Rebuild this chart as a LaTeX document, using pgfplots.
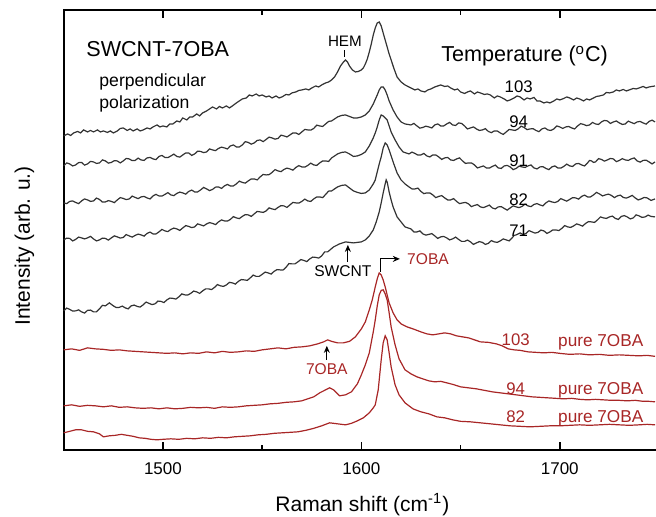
\documentclass[border=0pt]{standalone}
\usepackage{fontspec}
\setmainfont{Liberation Sans}
\usepackage{pgfplots}
\pgfplotsset{compat=1.18}
\usetikzlibrary{arrows.meta}
\definecolor{blk}{rgb}{0.2,0.2,0.2}
\definecolor{rd}{RGB}{168,38,38}
\newcommand{\fs}[1]{\fontsize{#1}{#1}\selectfont}
\begin{document}
\begin{tikzpicture}
\begin{axis}[
  scale only axis, width=297.75pt, height=220pt,
  xmin=1450, xmax=1750, ymin=0, ymax=440,
  xtick={1500,1600,1700}, minor xtick={1550,1650},
  ytick=\empty,
  tick align=inside, major tick length=4pt, minor tick length=2.5pt,
  every tick/.style={black, line width=0.8pt},
  axis line style={line width=1pt},
  /pgf/number format/assume math mode=true,
  /pgf/number format/1000 sep={},
  xticklabel style={font=\fs{8.5}, yshift=-3pt},
  xlabel={Raman shift (cm\textsuperscript{-1})},
  ylabel={Intensity (arb. u.)},
  xlabel style={font=\fs{10.5}, at={(axis description cs:0.5017,-0.1409)}, anchor=base},
  ylabel style={font=\fs{10.5}, at={(axis description cs:-0.066,0.4636)}, anchor=center},
  clip=true,
]
% black 103
\addplot[blk, line width=0.6pt] coordinates {(1450,314) (1452,316) (1453.5,314.5) (1455,317) (1457,318.5) (1458.5,317) (1460,320) (1462,318) (1463.5,319.5) (1465,318) (1467,320) (1468.5,318) (1470,319) (1472,317.5) (1473.5,319) (1475,317) (1477,319) (1478.5,321.5) (1480,322) (1482,319.5) (1483.5,321) (1485,319) (1487,321) (1488.5,319) (1490,320) (1492,322) (1493.5,321) (1495,323) (1497,325) (1498.5,323) (1500,324) (1502,323) (1503.5,326) (1505,326) (1507,329) (1508.5,328) (1510,332) (1512,330) (1513.5,333) (1515,333) (1517,336) (1518.5,334) (1520,337) (1522,339) (1523.5,341) (1525,343) (1527,341) (1528.5,343.5) (1530,342) (1532,344) (1533.5,342) (1535,344) (1537,347) (1538.5,349) (1540,351) (1542,352) (1543.5,355) (1545,354) (1547,356) (1548.5,354) (1550,355) (1552,353) (1553.5,354) (1555,352) (1557,354) (1558.5,352) (1560,353) (1562,355.5) (1563.5,355) (1565,357) (1567,358) (1568.5,359.5) (1570,360) (1572,361) (1573.5,360) (1575,362) (1577,364) (1578.5,363) (1580,365) (1582,367) (1583.5,368) (1585,370) (1586.5,373) (1588,378) (1589.5,384) (1591,388) (1592,390) (1593,388) (1594,384) (1595.5,380) (1597,378) (1598.5,378.5) (1600,380) (1601,382) (1602,386) (1603,391) (1604,398) (1605,406) (1606,415) (1607,422) (1608,427) (1609,428) (1610,424) (1611,417) (1612,410) (1613,403) (1614,396) (1615,390) (1616.5,381) (1618,373) (1620,368) (1622,365) (1623.5,363.5) (1625,362) (1627,360) (1628.5,361) (1630,359) (1632,358) (1633.5,360) (1635,361) (1637,363) (1638.5,364) (1640,365) (1642,363.5) (1643.5,364) (1645,362) (1647,360) (1648.5,361) (1650,358) (1652,356.5) (1653.5,358) (1655,359) (1657,356) (1658.5,358) (1660,357) (1662,355.5) (1663.5,356) (1665,355) (1667,352) (1668.5,354) (1670,353) (1672,351) (1673.5,349) (1675,350) (1677,352) (1678.5,354) (1680,353) (1682,350) (1683.5,352) (1685,351) (1687,352.5) (1688.5,349) (1690,349) (1692,347) (1693.5,348) (1695,347) (1697,349) (1698.5,351) (1700,350) (1702,351.5) (1703.5,353) (1705,352) (1707,350) (1708.5,352) (1710,351) (1712,349) (1713.5,351) (1715,350) (1717,352) (1718.5,353.5) (1720,354) (1722,355) (1723.5,357.5) (1725,357) (1727,358) (1728.5,360) (1730,359) (1732,360.5) (1733.5,359) (1735,360) (1737,361.5) (1738.5,361) (1740,362) (1742,363.5) (1743.5,362) (1745,363) (1748,364)};
% black 94
\addplot[blk, line width=0.6pt] coordinates {(1450,284) (1451.5,287) (1453,286) (1454.5,284) (1456,285) (1457.5,287.3) (1459,287.5) (1460.5,284.8) (1462,286) (1463.5,288.5) (1465,288) (1466.5,286.5) (1468,287) (1469.5,290) (1471,289) (1472.5,286.8) (1474,287.5) (1475.5,289.3) (1477,289) (1478.5,287) (1480,289) (1481.5,291.5) (1483,291) (1484.5,289.3) (1486,289.5) (1487.5,291.8) (1489,290) (1490.5,289.5) (1492,292) (1493.5,292.5) (1495,291) (1496.5,290.3) (1498,293.5) (1499.5,294.5) (1501,292.5) (1502.5,292.3) (1504,294) (1505.5,295.8) (1507,293.5) (1508.5,292.8) (1510,295) (1511.5,297) (1513,297) (1514.5,294.5) (1516,296) (1517.5,298.8) (1519,298.5) (1520.5,297.3) (1522,298) (1523.5,301) (1525,300) (1526.5,299.3) (1528,301.5) (1529.5,302.8) (1531,302) (1532.5,301) (1534,304) (1535.5,305) (1537,303) (1538.5,303) (1540,305) (1541.5,308.3) (1543,307.5) (1544.5,305.8) (1546,307) (1547.5,309.5) (1549,310) (1550.5,308.3) (1552,310.5) (1553.5,312.8) (1555,312) (1556.5,310.8) (1558,311.5) (1559.5,314.8) (1561,314) (1562.5,313) (1564,315) (1565.5,317) (1567,317) (1568.5,315.5) (1570,318) (1571.5,320.5) (1573,320) (1574.5,319.8) (1576,321.5) (1577.5,324.8) (1579,324) (1580.5,323.5) (1582,326) (1583.5,328.5) (1585,329) (1588,333) (1590,334.5) (1592,335) (1594,333.5) (1596,332) (1598,332) (1600,333) (1602,335) (1604,339) (1606,346) (1608,355) (1609,360) (1610,363) (1611,363) (1612,360) (1613,355) (1614,349) (1616,340) (1618,333) (1620,328) (1622,326) (1625,325) (1626.5,326.5) (1628,324) (1629.5,321.8) (1631,322.5) (1632.5,323.8) (1634,323) (1635.5,322) (1637,325) (1638.5,326) (1640,324) (1641.5,324) (1643,326) (1644.5,327.5) (1646,325) (1647.5,324.5) (1649,327) (1650.5,326.5) (1652,324) (1653.5,321) (1655,322) (1656.5,323) (1658,321) (1659.5,319.5) (1661,320) (1662.5,321.3) (1664,318.5) (1665.5,317.3) (1667,319) (1668.5,319) (1670,317) (1671.5,315.5) (1673,318) (1674.5,320.5) (1676,320) (1677.5,319.5) (1679,321) (1680.5,323.8) (1682,322.5) (1683.5,320.3) (1685,321) (1686.5,321.3) (1688,319.5) (1689.5,318.3) (1691,321) (1692.5,322) (1694,320) (1695.5,319.5) (1697,321) (1698.5,324) (1700,323) (1701.5,321.5) (1703,323) (1704.5,323.5) (1706,322) (1707.5,321) (1709,324) (1710.5,326.3) (1712,325.5) (1713.5,324.3) (1715,325) (1716.5,327.5) (1718,326) (1719.5,325.5) (1721,328) (1722.5,329.5) (1724,329) (1725.5,326.5) (1727,328) (1728.5,329) (1730,327) (1731.5,325.5) (1733,326) (1734.5,328.8) (1736,327.5) (1737.5,326.3) (1739,328) (1740.5,328.5) (1742,327) (1743.5,325.8) (1745,328.5) (1746.5,329.8) (1748,328)};
% black 91
\addplot[blk, line width=0.6pt] coordinates {(1450,247) (1451.5,246.3) (1453,248.5) (1454.5,249) (1456,247.5) (1457.5,246.3) (1459,249) (1460.5,251) (1462,250) (1463.5,248.5) (1465,249) (1466.5,251.8) (1468,250.5) (1469.5,247.8) (1471,248) (1472.5,249.3) (1474,248.5) (1475.5,247.3) (1477,250) (1478.5,252.3) (1480,251.5) (1481.5,250.3) (1483,251) (1484.5,253.8) (1486,252.5) (1487.5,251.3) (1489,253) (1490.5,253.5) (1492,252) (1493.5,251) (1495,254) (1496.5,255.5) (1498,254) (1499.5,253.8) (1501,255.5) (1502.5,257.3) (1504,255) (1505.5,254.3) (1507,256.5) (1508.5,257.8) (1510,257) (1511.5,255.8) (1513,258.5) (1514.5,259.8) (1516,258) (1517.5,258) (1519,260) (1520.5,262.5) (1522,261) (1523.5,259.3) (1525,260.5) (1526.5,262.8) (1528,263) (1529.5,261.5) (1531,264) (1532.5,265.5) (1534,264) (1535.5,264) (1537,266) (1538.5,268.8) (1540,267.5) (1541.5,266.8) (1543,269) (1544.5,271) (1546,271) (1547.5,270) (1549,273) (1550.5,275.5) (1552,275) (1553.5,275.3) (1555,277.5) (1556.5,280.3) (1558,279) (1559.5,278.3) (1561,280.5) (1562.5,281.8) (1564,281) (1565.5,279.8) (1567,282.5) (1568.5,284.3) (1570,283) (1571.5,282.8) (1573,284.5) (1574.5,286.8) (1576,285) (1577.5,284.5) (1579,287) (1580.5,289) (1582,289) (1583.5,288.5) (1585,292) (1588,296) (1590,297.5) (1592,298) (1594,296) (1596,293.5) (1598,294) (1600,295.5) (1602,298) (1604,304) (1606,312) (1607,317) (1608,323) (1609,330) (1610,335) (1611,334) (1613,330) (1614,324) (1615,318) (1617,310) (1619,303) (1621,298) (1624,296) (1625.5,297.8) (1627,296.5) (1628.5,294.8) (1630,295) (1631.5,296.5) (1633,294) (1634.5,293) (1636,295) (1637.5,295) (1639,293) (1640.5,290.5) (1642,292) (1643.5,292.5) (1645,290) (1646.5,289.5) (1648,291) (1649.5,292) (1651,289) (1652.5,286.5) (1654,287) (1655.5,287) (1657,285) (1658.5,282) (1660,283) (1661.5,284) (1663,282) (1664.5,281.8) (1666,283.5) (1667.5,284.8) (1669,282) (1670.5,281.5) (1672,284) (1673.5,284.5) (1675,283) (1676.5,280.3) (1678,281.5) (1679.5,283.8) (1681,283) (1682.5,282.5) (1684,284) (1685.5,285) (1687,282) (1688.5,281) (1690,283) (1691.5,283.3) (1693,281.5) (1694.5,280.3) (1696,283) (1697.5,284) (1699,282) (1700.5,281.8) (1702,283.5) (1703.5,285.8) (1705,284) (1706.5,283.5) (1708,286) (1709.5,286.5) (1711,285) (1712.5,284) (1714,287) (1715,289.5) (1716,289) (1717,287.5) (1718,288) (1719.5,291.3) (1721,290.5) (1722.5,288.8) (1724,290) (1725.5,291.5) (1727,291) (1728.5,288.3) (1730,289.5) (1731.5,291.3) (1733,290) (1734.5,289.5) (1736,291) (1737.5,292) (1739,289) (1740.5,287.8) (1742,289.5) (1743.5,289.8) (1745,288) (1746.5,286) (1748,288)};
% black 82
\addplot[blk, line width=0.6pt] coordinates {(1450,210) (1451.5,211.8) (1453,211.5) (1454.5,209) (1456,210.5) (1457.5,212.8) (1459,212) (1460.5,211) (1462,212) (1463.5,213.5) (1465,211) (1466.5,209) (1468,210) (1469.5,211.8) (1471,211.5) (1472.5,209.8) (1474,212) (1475.5,214) (1477,213) (1478.5,211.8) (1480,212.5) (1481.5,215.3) (1483,214) (1484.5,212.8) (1486,214.5) (1487.5,215.8) (1489,215) (1490.5,213.8) (1492,216.5) (1493.5,217.8) (1495,216) (1496.5,216) (1498,218) (1499.5,220.5) (1501,219) (1502.5,218.3) (1504,220.5) (1505.5,221.8) (1507,221) (1508.5,219.5) (1510,222) (1511.5,224.3) (1513,223.5) (1514.5,222.3) (1516,223) (1517.5,226) (1519,225) (1520.5,224) (1522,226) (1523.5,227.3) (1525,226.5) (1526.5,225.3) (1528,228) (1529.5,230) (1531,229) (1532.5,228.8) (1534,230.5) (1535.5,233.3) (1537,232) (1538.5,231.3) (1540,233.5) (1541.5,235.3) (1543,235) (1544.5,233.5) (1546,236) (1547.5,238.5) (1549,238) (1550.5,237.5) (1552,239) (1553.5,242) (1555,241) (1556.5,240.3) (1558,242.5) (1559.5,244.3) (1561,244) (1562.5,242.5) (1564,245) (1565.5,247.5) (1567,247) (1568.5,246.8) (1570,248.5) (1571.5,250.8) (1573,249) (1574.5,248.5) (1576,251) (1577.5,253) (1579,253) (1580.5,252.3) (1582,255.5) (1583.5,258.8) (1585,259) (1588,263) (1590,264.5) (1592,265) (1594,262) (1596,259) (1598,257.5) (1600,256.5) (1602,257) (1604,260) (1606,266) (1607,270) (1608,278) (1609,286) (1610,293) (1611,302) (1612,307) (1613,305) (1614,300) (1616,288) (1618,277) (1620,270) (1622,266) (1624,263) (1625.5,261) (1627,261) (1628.5,261.8) (1630,258.5) (1631.5,256.3) (1633,257) (1634.5,257) (1636,255) (1637.5,252.3) (1639,253.5) (1640.5,254.3) (1642,252) (1643.5,250) (1645,250) (1646.5,251.3) (1648,248.5) (1649.5,246.3) (1651,247) (1652.5,247.5) (1654,246) (1655.5,243.3) (1657,244.5) (1658.5,245.3) (1660,243) (1661.5,242.3) (1663,243.5) (1664.5,244.8) (1666,242) (1667.5,241) (1669,243) (1670.5,243.3) (1672,241.5) (1673.5,239.8) (1675,242) (1676.5,244) (1678,243) (1679.5,242.3) (1681,243.5) (1682.5,245.8) (1684,244) (1685.5,243.3) (1687,245.5) (1688.5,246.3) (1690,245) (1691.5,244) (1693,247) (1694.5,249) (1696,248) (1697.5,247.3) (1699,248.5) (1700.5,251.3) (1702,250) (1703.5,248.8) (1705,250.5) (1706.5,252.3) (1708,252) (1709.5,250.8) (1711,253.5) (1712.5,254.8) (1714,253) (1715.5,253) (1717,255) (1718.5,257.5) (1720,256) (1721.5,254) (1723,255) (1724.5,255.8) (1726,254.5) (1727.5,252.3) (1729,254) (1730.5,254.8) (1732,252.5) (1733.5,251.8) (1735,253) (1736.5,254.5) (1738,252) (1739.5,250) (1741,251) (1742.5,252.5) (1744,252) (1746,249.5) (1748,251)};
% black 71
\addplot[blk, line width=0.6pt] coordinates {(1450,139) (1451.5,141.8) (1453,140.5) (1454.5,138.8) (1456,139) (1457.5,140) (1459,138) (1460.5,136.8) (1462,139.5) (1463.5,139.8) (1465,138) (1466.5,138) (1468,141) (1469.5,144.5) (1471,144) (1473,147) (1475,144) (1476.5,142.3) (1478,142.5) (1479.5,143.8) (1481,142) (1482.5,141) (1484,144) (1485.5,144.8) (1487,143.5) (1488.5,142.8) (1490,145) (1491.5,147.8) (1493,146.5) (1494.5,145.3) (1496,146) (1497.5,148.8) (1499,148.5) (1500.5,147.3) (1502,150) (1503.5,151.8) (1505,151.5) (1506.5,150.8) (1508,153) (1509.5,156) (1511,155) (1512.5,154.8) (1514,156.5) (1515.5,158.8) (1517,158) (1518.5,156.5) (1520,159) (1521.5,161) (1523,161) (1524.5,160.3) (1526,162.5) (1527.5,165.3) (1529,164) (1530.5,163.5) (1532,165) (1533.5,167.5) (1535,167) (1536.5,165.8) (1538,168.5) (1539.5,170.3) (1541,170) (1542.5,169.5) (1544,172) (1545.5,174.8) (1547,173.5) (1548.5,173.5) (1550,175.5) (1551.5,177.8) (1553,177) (1554.5,175.8) (1556,178.5) (1557.5,180.3) (1559,180) (1560.5,179.8) (1562,182.5) (1563.5,186.3) (1565,186) (1566.5,186) (1568,188) (1569.5,190.3) (1571,189.5) (1572.5,188.3) (1574,191) (1575.5,192.8) (1577,192.5) (1578.5,191.8) (1580,194) (1581.5,198) (1583,198) (1586,203) (1589,206) (1592,208) (1594,207.5) (1596,207) (1598,207.5) (1600,208) (1602,210) (1604,214) (1606,220) (1607.5,228) (1609,238) (1610,247) (1611,257) (1612,266) (1612.5,270) (1613,268) (1614,258) (1615,250) (1616,243) (1618,233) (1620,228) (1622,223) (1625,221) (1626.5,218) (1628,218) (1629.5,219) (1631,216) (1632.5,214.8) (1634,215.5) (1635.5,216.3) (1637,214) (1638.5,211.5) (1640,213) (1641.5,213.5) (1643,212) (1644.5,210) (1646,211) (1647.5,212.8) (1649,210.5) (1650.5,208.5) (1652,208.5) (1653.5,209.8) (1655,208) (1656.5,205.5) (1658,207) (1659.5,208.3) (1661,207.5) (1662.5,205.5) (1664,206.5) (1665.5,209.3) (1667,208) (1668.5,207.5) (1670,209) (1671.5,211) (1673,210) (1674.5,209) (1676,212) (1677,214.5) (1678,215) (1680,217) (1681.5,215.3) (1683,216.5) (1684.5,219.3) (1686,218) (1687.5,216.8) (1689,217.5) (1690.5,219.8) (1692,219) (1693.5,216.5) (1695,218) (1696.5,220) (1698,220) (1699.5,219.3) (1701,221.5) (1702.5,224.3) (1704,223) (1705.5,222.5) (1707,224) (1708.5,226) (1710,225) (1711.5,223.8) (1713,226.5) (1714.5,228.3) (1716,228) (1717.5,227.5) (1719,230) (1720.5,233) (1722,232) (1723.5,231.5) (1725,233) (1726.5,233.8) (1728,231.5) (1729.5,230.5) (1731,233.5) (1732.5,234.3) (1734,233) (1735.5,231) (1737,232) (1738.5,235) (1740,234) (1741.5,232.5) (1743,233) (1744.5,234.8) (1746,233.5) (1748,233)};
% red 103
\addplot[rd, line width=0.6pt] coordinates {(1450,100) (1454,101) (1458,99.5) (1462,102) (1466,101) (1470,100.5) (1474,99.5) (1478,100) (1482,99) (1486,98.5) (1490,98) (1494,97.5) (1498,97) (1502,96.5) (1506,97) (1510,96) (1514,97) (1518,96.5) (1522,98) (1526,97) (1530,98.5) (1534,97.5) (1538,98) (1542,99) (1546,98.5) (1550,100) (1554,101) (1558,102) (1562,101) (1566,102.5) (1570,103) (1574,104) (1578,106) (1581,108) (1583,110) (1585,108.5) (1588,107) (1591,107) (1594,108.5) (1597,113) (1600,121) (1602,128) (1604,140) (1605.5,150) (1607,163) (1608,171) (1609,177) (1610,175) (1611,170) (1612,163) (1614,147) (1616,137) (1618,130) (1620,126) (1623,123) (1626,121) (1630,118) (1633,116) (1636,115) (1639,116) (1642,117) (1645,116) (1648,114) (1651,113) (1654,112) (1657,110) (1660,108) (1664,107.5) (1668,106) (1671,104) (1674,101) (1677,100) (1680,99.5) (1684,98) (1688,97.5) (1692,97) (1696,97.5) (1700,96.5) (1705,95.5) (1710,96) (1715,95) (1720,95.5) (1725,94.5) (1730,95) (1735,94.5) (1740,94) (1744,94.5) (1748,93.5)};
% red 94
\addplot[rd, line width=0.6pt] coordinates {(1450,44) (1454,45) (1458,43.5) (1462,44.5) (1466,44) (1470,43) (1474,44) (1478,42.5) (1482,43) (1486,42) (1490,41.5) (1494,42) (1498,41) (1502,42) (1506,41) (1510,41.5) (1514,42.5) (1518,42) (1522,42.5) (1526,41.5) (1530,43) (1534,42.5) (1538,43) (1542,44) (1546,44.5) (1550,45) (1554,46) (1558,46.5) (1562,47.5) (1566,48) (1570,49) (1573,51) (1576,53) (1579,57) (1582,60) (1584,62) (1586,60) (1589,54) (1592,55) (1595,58) (1598,66) (1600,75) (1602,85) (1604,97) (1606,118) (1607,130) (1608,144) (1609,155) (1610,159.5) (1611,160) (1612,156) (1613,150) (1614,137) (1615,123) (1617,105) (1619,91) (1622,80) (1625,76) (1628,73) (1631,71) (1634,69) (1637,68) (1640,68.5) (1643,67) (1646,65.5) (1650,63) (1654,62) (1658,61) (1662,59.5) (1666,58) (1670,57) (1674,56) (1678,55) (1682,54) (1686,53) (1690,52.5) (1694,52) (1698,51.5) (1702,51) (1706,51.5) (1710,50.5) (1714,50) (1718,50.5) (1722,50) (1726,49.5) (1730,49.5) (1734,49) (1738,49.5) (1742,48.5) (1745,48.5) (1748,48)};
% red 82
\addplot[rd, line width=0.6pt] coordinates {(1450,17) (1453,18.5) (1456,20) (1459,20) (1462,18.5) (1465,18) (1468,16) (1470,13) (1473,14) (1476,14.5) (1479,15.5) (1482,14.5) (1485,13.5) (1488,12) (1491,11.5) (1494,10.5) (1497,10) (1500,10.5) (1504,11) (1508,10.5) (1512,11.5) (1516,11) (1520,12) (1524,11.5) (1528,12.5) (1532,12) (1536,13) (1540,13.5) (1544,14) (1548,15) (1552,15.5) (1556,16.5) (1560,17) (1564,17.5) (1568,18) (1572,19.5) (1576,21.5) (1580,24) (1584,27) (1588,26) (1592,25) (1595,26.5) (1598,29) (1601,32) (1604,37) (1606,42) (1607,45) (1608.5,60) (1610,90) (1611,107) (1612,114) (1613,110) (1614,97) (1615,83) (1617,65) (1619,55) (1622,47) (1626,41) (1630,38) (1634,36) (1638,33) (1642,32) (1646,30) (1650,28.5) (1655,28) (1660,27) (1665,26) (1670,25) (1675,24) (1680,23.5) (1685,23) (1690,23.5) (1695,24) (1700,24) (1705,24.5) (1710,25) (1715,24.5) (1720,25) (1725,25.5) (1730,25) (1735,24.5) (1740,25) (1744,25.5) (1748,25)};
% annotations
\node[anchor=base west, inner sep=0, font=\fs{10.8}] at (axis cs:1461.2,393.3) {SWCNT-7OBA};
\node[anchor=base west, inner sep=0, font=\fs{8.8}] at (axis cs:1467.8,363) {perpendicular};
\node[anchor=base west, inner sep=0, font=\fs{8.8}] at (axis cs:1467.8,341) {polarization};
\node[anchor=base, inner sep=0, font=\fs{7.6}] at (axis cs:1591.7,403) {HEM};
\draw[black, line width=0.6pt] (axis cs:1591.7,393) -- (axis cs:1591.7,400);
\node[anchor=base west, inner sep=0, font=\fs{10.8}] at (axis cs:1640.1,388) {Temperature (\textsuperscript{o}C)};
\node[anchor=base, inner sep=0, font=\fs{8.4}] at (axis cs:1679.3,357) {103};
\node[anchor=base, inner sep=0, font=\fs{8.4}] at (axis cs:1679.3,322) {94};
\node[anchor=base, inner sep=0, font=\fs{8.4}] at (axis cs:1679.3,283) {91};
\node[anchor=base, inner sep=0, font=\fs{8.4}] at (axis cs:1679.3,244) {82};
\node[anchor=base, inner sep=0, font=\fs{8.4}] at (axis cs:1679.3,213) {71};
\node[anchor=base, inner sep=0, font=\fs{7.8}] at (axis cs:1590.7,173) {SWCNT};
\draw[black, line width=0.6pt, -{Stealth[length=3.5pt,width=3pt]}] (axis cs:1593.2,188) -- (axis cs:1593.2,205);
\draw[black, line width=0.6pt, -{Stealth[length=3.5pt,width=3pt]}] (axis cs:1609.8,178) -- (axis cs:1609.8,191) -- (axis cs:1619.4,191);
\node[anchor=base west, inner sep=0, font=\fs{7.8}, text=rd] at (axis cs:1622.9,185) {7OBA};
\node[anchor=base, inner sep=0, font=\fs{7.8}, text=rd] at (axis cs:1582.6,75) {7OBA};
\draw[black, line width=0.6pt, -{Stealth[length=3.5pt,width=3pt]}] (axis cs:1582.6,90) -- (axis cs:1582.6,104);
\node[anchor=base, inner sep=0, font=\fs{8.4}, text=rd] at (axis cs:1677.8,104) {103};
\node[anchor=base west, inner sep=0, font=\fs{8.6}, text=rd] at (axis cs:1699.0,103.5) {pure 7OBA};
\node[anchor=base, inner sep=0, font=\fs{8.4}, text=rd] at (axis cs:1677.8,55) {94};
\node[anchor=base west, inner sep=0, font=\fs{8.6}, text=rd] at (axis cs:1699.0,55.5) {pure 7OBA};
\node[anchor=base, inner sep=0, font=\fs{8.4}, text=rd] at (axis cs:1677.8,27.5) {82};
\node[anchor=base west, inner sep=0, font=\fs{8.6}, text=rd] at (axis cs:1699.0,27.5) {pure 7OBA};
\end{axis}
\pgfresetboundingbox
\path (-31.875pt,-33.5pt) rectangle (296.25pt,225pt);
\end{tikzpicture}
\end{document}
